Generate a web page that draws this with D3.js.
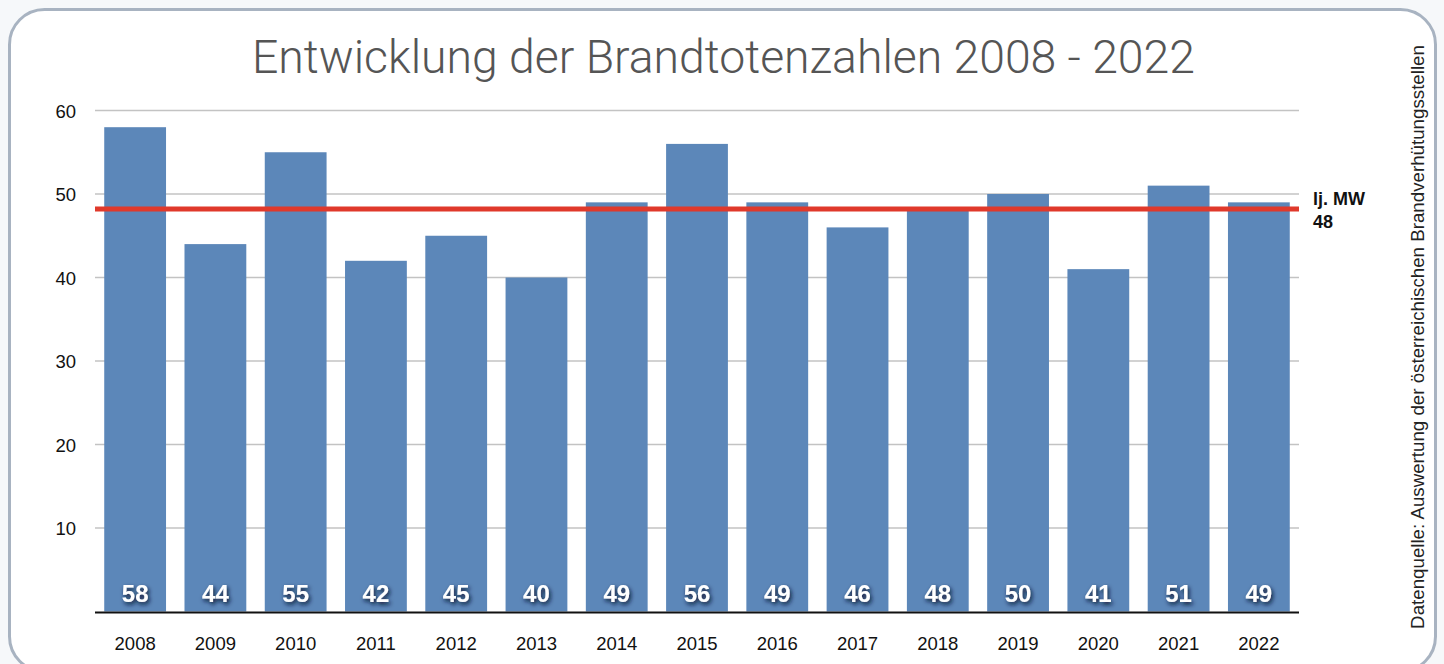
<!DOCTYPE html>
<html><head><meta charset="utf-8">
<script src="https://cdn.jsdelivr.net/npm/d3@7"></script>
<style>
html,body{margin:0;padding:0;background:#f6f8fa;}
svg{display:block;font-family:"Liberation Sans",Arial,Helvetica,sans-serif;}
</style></head>
<body><svg id="chart" width="1444" height="664"></svg>
<script>
const years = ["2008","2009","2010","2011","2012","2013","2014","2015","2016","2017","2018","2019","2020","2021","2022"];
const deaths = [58,44,55,42,45,40,49,56,49,46,48,50,41,51,49];
const yTicks = [10,20,30,40,50,60];
const meanValue = 48.2;
const meanLabel = ["lj. MW","48"];
const titleText = "Entwicklung der Brandtotenzahlen 2008 - 2022";
const sourceText = "Datenquelle: Auswertung der österreichischen Brandverhütungsstellen";

(function(){
const svg = d3.select("#chart");
const defs = svg.append("defs");
const f = defs.append("filter").attr("id","sh").attr("x","-50%").attr("y","-50%").attr("width","200%").attr("height","200%");
f.append("feDropShadow").attr("dx",1.5).attr("dy",2.5).attr("stdDeviation",2.2).attr("flood-color","#0a1530").attr("flood-opacity",1);

// panel
svg.append("rect").attr("x",9.5).attr("y",9.5).attr("width",1426).attr("height",662).attr("rx",35).attr("ry",35)
  .attr("fill","#ffffff").attr("stroke","#a8b3c1").attr("stroke-width",3);

const pLeft=95, pRight=1299, pTop=110.5, pBottom=611.5;
const x = d3.scaleBand().domain(years).range([pLeft,pRight]).paddingInner(0.23).paddingOuter(0.115);
const y = d3.scaleLinear().domain([0,60]).range([pBottom,pTop]);
const sans = "'Liberation Sans', Arial, sans-serif";

// grid
svg.append("g").selectAll("line").data(yTicks).join("line")
  .attr("x1",pLeft).attr("x2",pRight).attr("y1",d=>y(d)).attr("y2",d=>y(d))
  .attr("stroke","#c3c3c3").attr("stroke-width",1.5);

// y axis labels
const ya = svg.append("g").attr("transform",`translate(${pLeft-19},0)`)
  .call(d3.axisLeft(y).tickValues(yTicks).tickSize(0).tickPadding(0));
ya.select(".domain").remove();
ya.attr("font-family",null).attr("font-size",null);
ya.selectAll("text").style("font-size","18.5px").attr("fill","#111").style("font-family",sans).attr("dy","0.36em");

// bars
svg.append("g").selectAll("rect").data(deaths).join("rect")
  .attr("x",(d,i)=>x(years[i])).attr("width",x.bandwidth())
  .attr("y",d=>y(d)).attr("height",d=>y(0)-y(d)).attr("fill","#5c87b9");

// baseline
svg.append("line").attr("x1",pLeft).attr("x2",pRight).attr("y1",pBottom+1).attr("y2",pBottom+1).attr("stroke","#111").attr("stroke-width",2);

// x axis
const xa = svg.append("g").attr("transform",`translate(0,${pBottom})`)
  .call(d3.axisBottom(x).tickSize(0).tickPadding(0));
xa.select(".domain").remove();
xa.attr("font-family",null).attr("font-size",null);
xa.selectAll("text").style("font-size","18.5px").attr("fill","#111").style("font-family",sans).attr("y",38).attr("dy",0);

// value labels
svg.append("g").selectAll("text").data(deaths).join("text")
  .attr("x",(d,i)=>x(years[i])+x.bandwidth()/2).attr("y",602)
  .attr("text-anchor","middle").style("font-size","24px").style("font-weight","bold").style("font-family",sans).attr("fill","#fff")
  .attr("filter","url(#sh)").text(d=>d);

// mean line
svg.append("line").attr("x1",pLeft).attr("x2",pRight).attr("y1",y(meanValue)).attr("y2",y(meanValue))
  .attr("stroke","#e0392b").attr("stroke-width",5);
svg.append("g").selectAll("text").data(meanLabel).join("text")
  .attr("x",1313).attr("y",(d,i)=>205+i*23).style("font-size","18px").style("font-weight","bold").style("font-family",sans).attr("fill","#111").text(d=>d);

// title
const t = svg.append("text").attr("x",723.5).attr("y",73).attr("text-anchor","middle")
  .style("font-family","Roboto, Lato, 'Open Sans', sans-serif").style("font-weight","300")
  .style("font-size","46px").attr("fill","#555").text(titleText);
const tw = t.node().getComputedTextLength();
t.style("font-size",(46*943/tw)+"px");

// source text
const s = svg.append("text").attr("transform","translate(1424,337) rotate(-90)").attr("text-anchor","middle")
  .style("font-size","16px").style("font-family",sans).attr("fill","#222").text(sourceText);
const sw = s.node().getComputedTextLength();
s.style("font-size",(16*584/sw)+"px");
})();
</script></body></html>
